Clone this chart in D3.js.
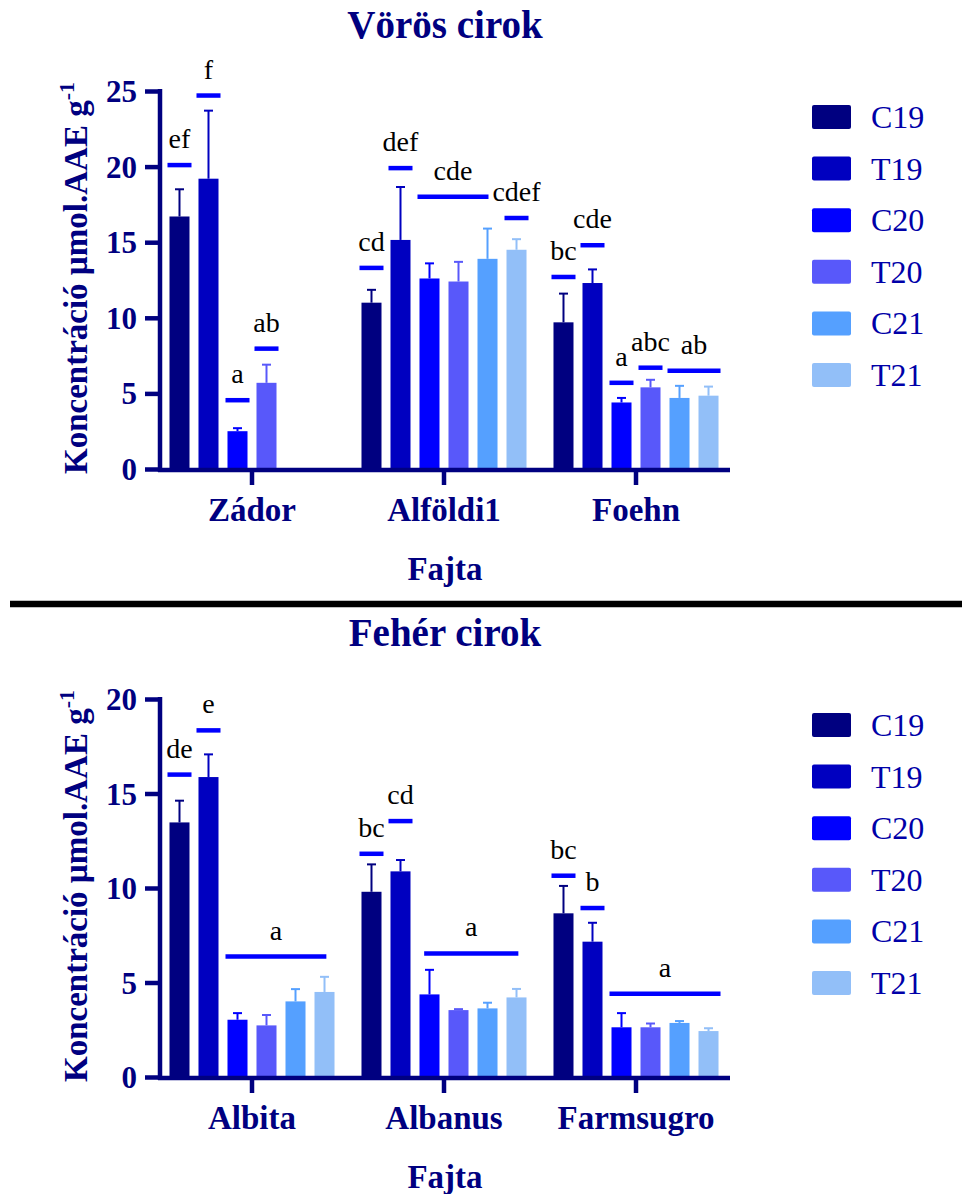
<!DOCTYPE html>
<html>
<head>
<meta charset="utf-8">
<script src="https://cdn.jsdelivr.net/npm/d3@7/dist/d3.min.js"></script>
<style>
  html, body { margin: 0; padding: 0; background: #fff; }
  svg { display: block; }
  svg text { font-family: "Liberation Serif", "Times New Roman", Times, "DejaVu Serif", serif; }
</style>
</head>
<body>
<svg id="fig" width="962" height="1194"></svg>
<script>
// Treatment series (year × control/treated)
const seriesNames = ["C19", "T19", "C20", "T20", "C21", "T21"];
const seriesColors = ["#000080", "#0000c0", "#0000ff", "#5858fa", "#55a0ff", "#92bff8"];

// ---- Vörös cirok (red sorghum) ----
const redCats = ["Zádor", "Alföldi1", "Foehn"];
const redC19 = [16.7, 11.0, 9.7];
const redT19 = [19.2, 15.15, 12.3];
const redC20 = [2.5, 12.6, 4.4];
const redT20 = [5.7, 12.4, 5.4];
const redC21 = [null, 13.9, 4.7];
const redT21 = [null, 14.5, 4.85];
const redC19Sd = [1.8, 0.85, 1.9];
const redT19Sd = [4.5, 3.5, 0.9];
const redC20Sd = [0.2, 1.0, 0.3];
const redT20Sd = [1.2, 1.3, 0.5];
const redC21Sd = [null, 2.0, 0.8];
const redT21Sd = [null, 0.7, 0.6];
const redTicks = [0, 5, 10, 15, 20, 25];
// Significance groups: category, first/last series slot covered, line level, letters
const redSig = [
  { cat: "Zádor", from: 0, to: 0, level: 20.1, text: "ef" },
  { cat: "Zádor", from: 1, to: 1, level: 24.7, text: "f" },
  { cat: "Zádor", from: 2, to: 2, level: 4.55, text: "a" },
  { cat: "Zádor", from: 3, to: 3, level: 7.96, text: "ab" },
  { cat: "Alföldi1", from: 0, to: 0, level: 13.3, text: "cd" },
  { cat: "Alföldi1", from: 1, to: 1, level: 19.9, text: "def" },
  { cat: "Alföldi1", from: 2, to: 3.62, level: 18.0, text: "cde" },
  { cat: "Alföldi1", from: 5, to: 5, level: 16.6, text: "cdef" },
  { cat: "Foehn", from: 0, to: 0, level: 12.7, text: "bc" },
  { cat: "Foehn", from: 1, to: 1, level: 14.8, text: "cde" },
  { cat: "Foehn", from: 2, to: 2, level: 5.7, text: "a" },
  { cat: "Foehn", from: 3, to: 3, level: 6.7, text: "abc" },
  { cat: "Foehn", from: 4, to: 5, level: 6.5, text: "ab" }
];

// ---- Fehér cirok (white sorghum) ----
const whiteCats = ["Albita", "Albanus", "Farmsugro"];
const whiteC19 = [13.47, 9.8, 8.66];
const whiteT19 = [15.87, 10.88, 7.16];
const whiteC20 = [3.03, 4.37, 2.63];
const whiteT20 = [2.73, 3.54, 2.63];
const whiteC21 = [4.0, 3.63, 2.86];
const whiteT21 = [4.5, 4.21, 2.43];
const whiteC19Sd = [1.15, 1.45, 1.45];
const whiteT19Sd = [1.2, 0.6, 1.0];
const whiteC20Sd = [0.35, 1.3, 0.75];
const whiteT20Sd = [0.55, 0.05, 0.2];
const whiteC21Sd = [0.65, 0.3, 0.1];
const whiteT21Sd = [0.8, 0.45, 0.15];
const whiteTicks = [0, 5, 10, 15, 20];
const whiteSig = [
  { cat: "Albita", from: 0, to: 0, level: 16.0, text: "de" },
  { cat: "Albita", from: 1, to: 1, level: 18.34, text: "e" },
  { cat: "Albita", from: 2, to: 4.65, level: 6.37, text: "a" },
  { cat: "Albanus", from: 0, to: 0, level: 11.81, text: "bc" },
  { cat: "Albanus", from: 1, to: 1, level: 13.54, text: "cd" },
  { cat: "Albanus", from: 2.23, to: 4.65, level: 6.54, text: "a" },
  { cat: "Farmsugro", from: 0, to: 0, level: 10.65, text: "bc" },
  { cat: "Farmsugro", from: 1, to: 1, level: 8.94, text: "b" },
  { cat: "Farmsugro", from: 2, to: 5, level: 4.41, text: "a" }
];

const NAVY = "#000080";

const svg = d3.select("#fig");

function buildRows(cats, vals, sds) {
  return cats.map((c, i) => ({
    cat: c,
    bars: seriesNames.map((s, j) => ({ series: s, idx: j, value: vals[j][i], sd: sds[j][i] }))
  }));
}

function drawPanel(cfg) {
  const g = svg.append("g").attr("transform", `translate(0,${cfg.offsetY})`);
  const axisX0 = 160, axisX1 = 730, yBottom = 469, yTop = 91;

  const x0 = d3.scaleBand().domain(cfg.cats).range([156, 732]).padding(0);
  const x1 = d3.scaleBand().domain(seriesNames).range([0, x0.bandwidth()])
    .paddingInner(0.31).paddingOuter(0.465);
  const y = d3.scaleLinear().domain([0, d3.max(cfg.ticks)]).range([yBottom, yTop]);
  const color = d3.scaleOrdinal().domain(seriesNames).range(seriesColors);

  const rows = buildRows(cfg.cats, cfg.vals, cfg.sds);

  // Title
  g.append("text")
    .attr("x", 445).attr("y", 38)
    .attr("text-anchor", "middle")
    .attr("font-weight", "bold").attr("font-size", 39)
    .attr("fill", NAVY)
    .text(cfg.title);

  // Bars + upper error bars
  const groups = g.selectAll("g.cat").data(rows).join("g")
    .attr("class", "cat")
    .attr("transform", d => `translate(${x0(d.cat)},0)`);

  const bars = groups.selectAll("g.bar").data(d => d.bars.filter(b => b.value != null)).join("g")
    .attr("class", "bar");

  bars.append("rect")
    .attr("x", d => x1(d.series))
    .attr("y", d => y(d.value))
    .attr("width", x1.bandwidth())
    .attr("height", d => y(0) - y(d.value))
    .attr("fill", d => color(d.series));

  bars.append("line")
    .attr("x1", d => x1(d.series) + x1.bandwidth() / 2)
    .attr("x2", d => x1(d.series) + x1.bandwidth() / 2)
    .attr("y1", d => y(d.value))
    .attr("y2", d => y(d.value + d.sd))
    .attr("stroke", d => color(d.series)).attr("stroke-width", 2);

  bars.append("line")
    .attr("x1", d => x1(d.series) + x1.bandwidth() / 2 - 4.5)
    .attr("x2", d => x1(d.series) + x1.bandwidth() / 2 + 4.5)
    .attr("y1", d => y(d.value + d.sd))
    .attr("y2", d => y(d.value + d.sd))
    .attr("stroke", d => color(d.series)).attr("stroke-width", 2);

  // Significance lines and letters
  const step = x1.step();
  const base = x1(seriesNames[0]);
  const sig = g.selectAll("g.sig").data(cfg.sig).join("g").attr("class", "sig");
  const sx0 = d => x0(d.cat) + base + d.from * step - 2;
  const sx1 = d => x0(d.cat) + base + d.to * step + x1.bandwidth() + 2;
  sig.append("line")
    .attr("x1", sx0).attr("x2", sx1)
    .attr("y1", d => y(d.level)).attr("y2", d => y(d.level))
    .attr("stroke", "#0000ff").attr("stroke-width", 4.5);
  sig.append("text")
    .attr("x", d => (sx0(d) + sx1(d)) / 2)
    .attr("y", d => y(d.level) - 17)
    .attr("text-anchor", "middle")
    .attr("font-size", 28)
    .attr("fill", "#000")
    .text(d => d.text);

  // Y axis
  const yAxis = g.append("g")
    .attr("transform", `translate(${axisX0},0)`)
    .call(d3.axisLeft(y).tickValues(cfg.ticks).tickSize(15).tickSizeOuter(0).tickPadding(8));
  yAxis.attr("font-family", null);
  yAxis.select(".domain").attr("stroke", NAVY).attr("stroke-width", 4.5)
    .attr("d", `M0,${yTop - 2}V${yBottom + 3}`);
  yAxis.selectAll(".tick line").attr("stroke", NAVY).attr("stroke-width", 4.5);
  yAxis.selectAll(".tick text")
    .attr("font-weight", "bold").attr("font-size", 31)
    .attr("fill", NAVY).attr("dy", "0.34em");

  // X axis
  const xAxis = g.append("g")
    .attr("transform", `translate(0,${yBottom + 1})`)
    .call(d3.axisBottom(x0).tickSize(15).tickSizeOuter(0));
  xAxis.attr("font-family", null);
  xAxis.select(".domain").attr("stroke", NAVY).attr("stroke-width", 4.5)
    .attr("d", `M${axisX0 - 2},0H${axisX1}`);
  xAxis.selectAll(".tick line").attr("stroke", NAVY).attr("stroke-width", 4.5);
  xAxis.selectAll(".tick text")
    .attr("font-weight", "bold").attr("font-size", 33)
    .attr("fill", NAVY).attr("y", 51).attr("dy", 0);

  // Axis titles
  g.append("text")
    .attr("x", 445).attr("y", 580)
    .attr("text-anchor", "middle")
    .attr("font-weight", "bold").attr("font-size", 33)
    .attr("fill", NAVY)
    .text("Fajta");

  const yl = g.append("text")
    .attr("transform", `translate(87,${(yTop + yBottom) / 2 - 2}) rotate(-90)`)
    .attr("text-anchor", "middle")
    .attr("font-weight", "bold").attr("font-size", 33)
    .attr("fill", NAVY);
  yl.append("tspan").text("Koncentráció µmol.AAE g");
  yl.append("tspan").attr("dy", -13).attr("font-size", 22).text("-1");

  // Legend
  const leg = g.selectAll("g.leg").data(seriesNames).join("g")
    .attr("class", "leg")
    .attr("transform", (d, i) => `translate(812,${117 + i * 51.6})`);
  leg.append("rect")
    .attr("x", 0).attr("y", -12).attr("width", 39).attr("height", 24).attr("rx", 2)
    .attr("fill", d => color(d));
  leg.append("text")
    .attr("x", 59).attr("y", 11)
    .attr("font-size", 32)
    .attr("fill", "#0000a8")
    .text(d => d);
}

drawPanel({
  offsetY: 0,
  title: "Vörös cirok",
  cats: redCats,
  vals: [redC19, redT19, redC20, redT20, redC21, redT21],
  sds: [redC19Sd, redT19Sd, redC20Sd, redT20Sd, redC21Sd, redT21Sd],
  ticks: redTicks,
  sig: redSig
});

drawPanel({
  offsetY: 608,
  title: "Fehér cirok",
  cats: whiteCats,
  vals: [whiteC19, whiteT19, whiteC20, whiteT20, whiteC21, whiteT21],
  sds: [whiteC19Sd, whiteT19Sd, whiteC20Sd, whiteT20Sd, whiteC21Sd, whiteT21Sd],
  ticks: whiteTicks,
  sig: whiteSig
});

// Separator between the two panels
svg.append("line")
  .attr("x1", 10).attr("x2", 962)
  .attr("y1", 604).attr("y2", 604)
  .attr("stroke", "#000").attr("stroke-width", 6.5);
</script>
</body>
</html>
